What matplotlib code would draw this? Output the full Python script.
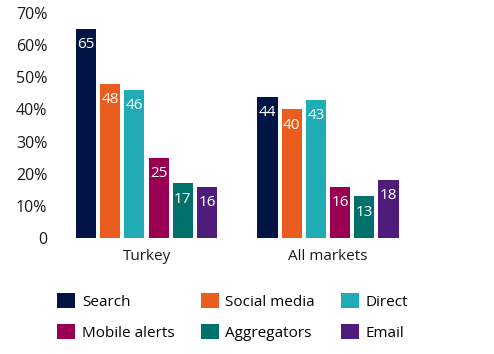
import matplotlib
matplotlib.use("Agg")
import matplotlib.pyplot as plt
from matplotlib.patches import Patch

plt.rcParams['font.family'] = ['Open Sans', 'DejaVu Sans']

groups = ["Turkey", "All markets"]
series = ["Search", "Social media", "Direct", "Mobile alerts", "Aggregators", "Email"]
turkey = [65, 48, 46, 25, 17, 16]
all_markets = [44, 40, 43, 16, 13, 18]
colors = ["#001543", "#EB5C1F", "#1FACB4", "#9A0052", "#00716A", "#501C7B"]
yticks = [0, 10, 20, 30, 40, 50, 60, 70]
yticklabels = ["0", "10%", "20%", "30%", "40%", "50%", "60%", "70%"]

fig = plt.figure(figsize=(4.94, 3.54), dpi=100)
ax = fig.add_axes([50/494, (354-238)/354, 420/494, 225/354])

offset = 7.5
width = 0.83
values = [turkey, all_markets]
for gi, vals in enumerate(values):
    for si, v in enumerate(vals):
        x = gi*offset + si
        ax.bar(x, v, width=width, color=colors[si], edgecolor='none')
        ax.annotate(str(v), (x, v), xytext=(0, -6), textcoords='offset points',
                    ha='center', va='top', color='white', fontsize=11)

ax.set_xlim(-1.49, 15.87)
ax.set_ylim(0, 70)
ax.set_yticks(yticks)
ax.set_yticklabels(yticklabels, fontsize=11.5, color='#1a1a1a')
ax.set_xticks([2.5, offset+2.5])
ax.set_xticklabels(groups, fontsize=11, color='#1a1a1a')
ax.tick_params(axis='both', length=0)
ax.tick_params(axis='y', pad=2)
ax.tick_params(axis='x', pad=8)
for s in ax.spines.values():
    s.set_visible(False)

handles = [Patch(facecolor=c, edgecolor='none') for c in colors]
order = [0, 3, 1, 4, 2, 5]
fig.legend([handles[i] for i in order], [series[i] for i in order], ncol=3,
           loc='upper left', bbox_to_anchor=(57/494, 1-293/354), frameon=False,
           fontsize=11, handlelength=1.18, handleheight=1.1, handletextpad=0.45,
           labelspacing=0.95, columnspacing=1.7, borderpad=0, borderaxespad=0)

fig.savefig("out.png", dpi=100)
